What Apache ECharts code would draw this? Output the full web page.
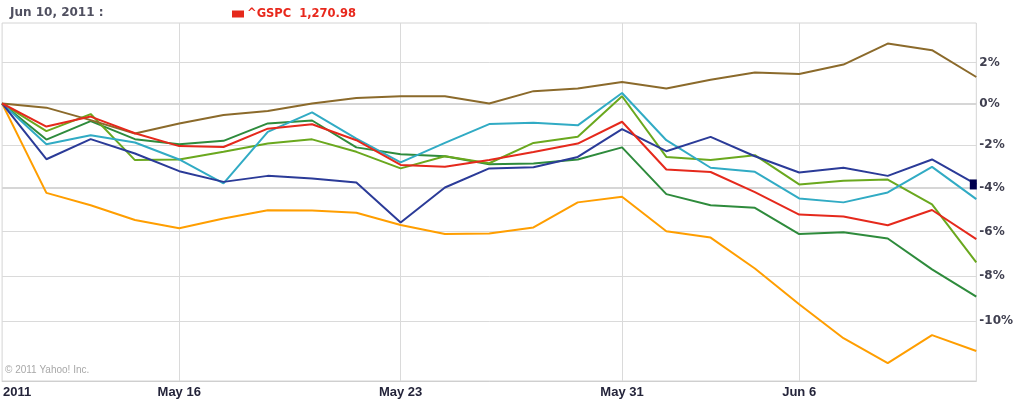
<!DOCTYPE html>
<html>
<head>
<meta charset="utf-8">
<script src="https://cdn.jsdelivr.net/npm/echarts@6/dist/echarts.min.js"></script>
<style>
html,body{margin:0;padding:0;background:#fff;}
#chart{width:1016px;height:400px;}
</style>
</head>
<body>
<div id="chart"></div>
<script>
// Trading days, May 10 – Jun 10, 2011
const dates = ['May 10','May 11','May 12','May 13','May 16','May 17','May 18','May 19','May 20',
  'May 23','May 24','May 25','May 26','May 27','May 31','Jun 1','Jun 2','Jun 3',
  'Jun 6','Jun 7','Jun 8','Jun 9','Jun 10'];
// Tick labels on the date axis (index -> label)
const tickIndex = [0, 4, 9, 14, 18];
const tickLabels = ['2011', 'May 16', 'May 23', 'May 31', 'Jun 6'];
// Percentage tick labels on the value axis
const pctTicks = [2, 0, -2, -4, -6, -8, -10];
const gspcClose = '1,270.98';

// Percent change since May 10 for each compared symbol
const gspc   = [0,-1.11,-0.63,-1.43,-2.04,-2.08,-1.21,-1.0,-1.76,-2.93,-3.01,-2.70,-2.32,-1.92,-0.88,-3.14,-3.26,-4.2,-5.23,-5.32,-5.72,-5.02,-6.35];
const brown  = [0,-0.2,-0.8,-1.44,-0.96,-0.56,-0.36,0,0.27,0.35,0.35,0,0.6,0.73,1.05,0.73,1.15,1.51,1.44,1.9,2.94,2.61,1.29];
const navy   = [0,-2.66,-1.71,-2.39,-3.22,-3.72,-3.44,-3.56,-3.75,-5.59,-3.98,-3.09,-3.04,-2.55,-1.23,-2.28,-1.6,-2.52,-3.28,-3.06,-3.44,-2.67,-3.84];
const teal   = [0,-1.95,-1.52,-1.87,-2.67,-3.79,-1.36,-0.43,-1.68,-2.81,-1.89,-0.99,-0.93,-1.05,0.51,-1.76,-3.06,-3.25,-4.49,-4.67,-4.21,-3.02,-4.52];
const lime   = [0,-1.33,-0.51,-2.7,-2.67,-2.31,-1.92,-1.72,-2.31,-3.09,-2.52,-2.85,-1.89,-1.6,0.35,-2.55,-2.7,-2.47,-3.84,-3.67,-3.61,-4.76,-7.4];
const green  = [0,-1.73,-0.85,-1.71,-1.95,-1.79,-0.96,-0.82,-2.1,-2.42,-2.52,-2.9,-2.86,-2.67,-2.1,-4.29,-4.8,-4.92,-6.12,-6.04,-6.32,-7.71,-8.92];
const orange = [0,-4.23,-4.8,-5.48,-5.86,-5.41,-5.03,-5.04,-5.15,-5.71,-6.12,-6.09,-5.82,-4.67,-4.41,-5.99,-6.28,-7.67,-9.25,-10.73,-11.8,-10.6,-11.28];

// Yahoo plots performance on a log (price-ratio) scale: index level = 100 + pct
const lvl = arr => arr.map(p => 100 + p);

const chart = echarts.init(document.getElementById('chart'));
function line(name, data, color, extra) {
  return Object.assign({
    name: name, type: 'line', data: lvl(data), showSymbol: false, symbol: 'none',
    lineStyle: { color: color, width: 2 }, itemStyle: { color: color },
    emphasis: { disabled: true }, animation: false, z: 3
  }, extra || {});
}
const labelFont = 'DejaVu Sans, Verdana, sans-serif';
chart.setOption({
  animation: false,
  backgroundColor: '#fff',
  title: {
    text: 'Jun 10, 2011 :', left: 5, top: 2,
    textStyle: { fontFamily: labelFont, fontSize: 12, fontWeight: 'bold', color: '#505060' }
  },
  legend: {
    data: ['^GSPC'], left: 227, top: 3, icon: 'rect', itemWidth: 12, itemHeight: 7, itemGap: 4,
    formatter: n => n + '  ' + gspcClose,
    textStyle: { fontFamily: labelFont, fontSize: 11.5, fontWeight: 'bold', color: '#e8281c', padding: [0,0,0,-2] },
    selectedMode: false
  },
  grid: { left: 1, right: 39, top: 23, bottom: 19, show: true, borderColor: '#d4d4d4', borderWidth: 1, containLabel: false },
  xAxis: {
    type: 'category', data: dates, boundaryGap: false,
    axisLine: { show: true, lineStyle: { color: '#cfcfcf', width: 1 } },
    axisTick: { show: false },
    axisLabel: {
      interval: (i) => tickIndex.indexOf(i) >= 0,
      margin: 5,
      formatter: (v, i) => {
        const k = tickIndex.indexOf(i);
        if (k < 0) return '';
        return k === 0 ? '{first|' + tickLabels[k] + '}' : tickLabels[k];
      },
      fontFamily: 'Liberation Sans, Arial, sans-serif', fontSize: 13, fontWeight: 'bold', color: '#24243a',
      rich: { first: { fontFamily: 'Liberation Sans, Arial, sans-serif', fontSize: 13, fontWeight: 'bold', color: '#24243a', padding: [0, 0, 0, 30] } }
    },
    splitLine: { show: true, interval: (i) => tickIndex.slice(1).indexOf(i) >= 0, lineStyle: { color: '#dadada', width: 1 } }
  },
  yAxis: {
    type: 'log', logBase: 10, position: 'right',
    min: 87.44, max: 103.97,
    axisLine: { show: false },
    axisTick: { show: false, customValues: pctTicks.map(p => 100 + p) },
    axisLabel: {
      customValues: pctTicks.map(p => 100 + p),
      formatter: v => Math.round(v - 100) + '%',
      fontFamily: labelFont, fontSize: 12, fontWeight: 'bold', color: '#404050', margin: 3, align: 'left'
    },
    splitLine: { show: true, lineStyle: { color: '#dadada', width: 1 } }
  },
  graphic: [
    { type: 'text', left: 5, top: 365, style: { text: '\u00a9 2011 Yahoo! Inc.', fontFamily: 'Liberation Sans, Arial, sans-serif', fontSize: 10, fill: '#a8a8a8' } }
  ],
  series: [
    line('orange', orange, '#ff9e00'),
    line('green', green, '#2e8b3c'),
    line('lime', lime, '#6aa81e'),
    line('teal', teal, '#31abc4', {
      markLine: {
        silent: true, symbol: 'none', label: { show: false }, animation: false,
        lineStyle: { color: '#d6d6d6', width: 2, type: 'solid' },
        data: [{ yAxis: 100 }, { yAxis: 96 }], z: 1
      }
    }),
    line('navy', navy, '#2b3b98', {
      markPoint: {
        symbol: 'rect', symbolSize: [7, 10], symbolOffset: [-3, 0], silent: true, animation: false,
        itemStyle: { color: '#00004e' }, label: { show: false },
        data: [{ coord: [dates.length - 1, 100 + navy[navy.length - 1]] }]
      }
    }),
    line('brown', brown, '#8b6a2b'),
    line('^GSPC', gspc, '#e5291c')
  ]
});
</script>
</body>
</html>
